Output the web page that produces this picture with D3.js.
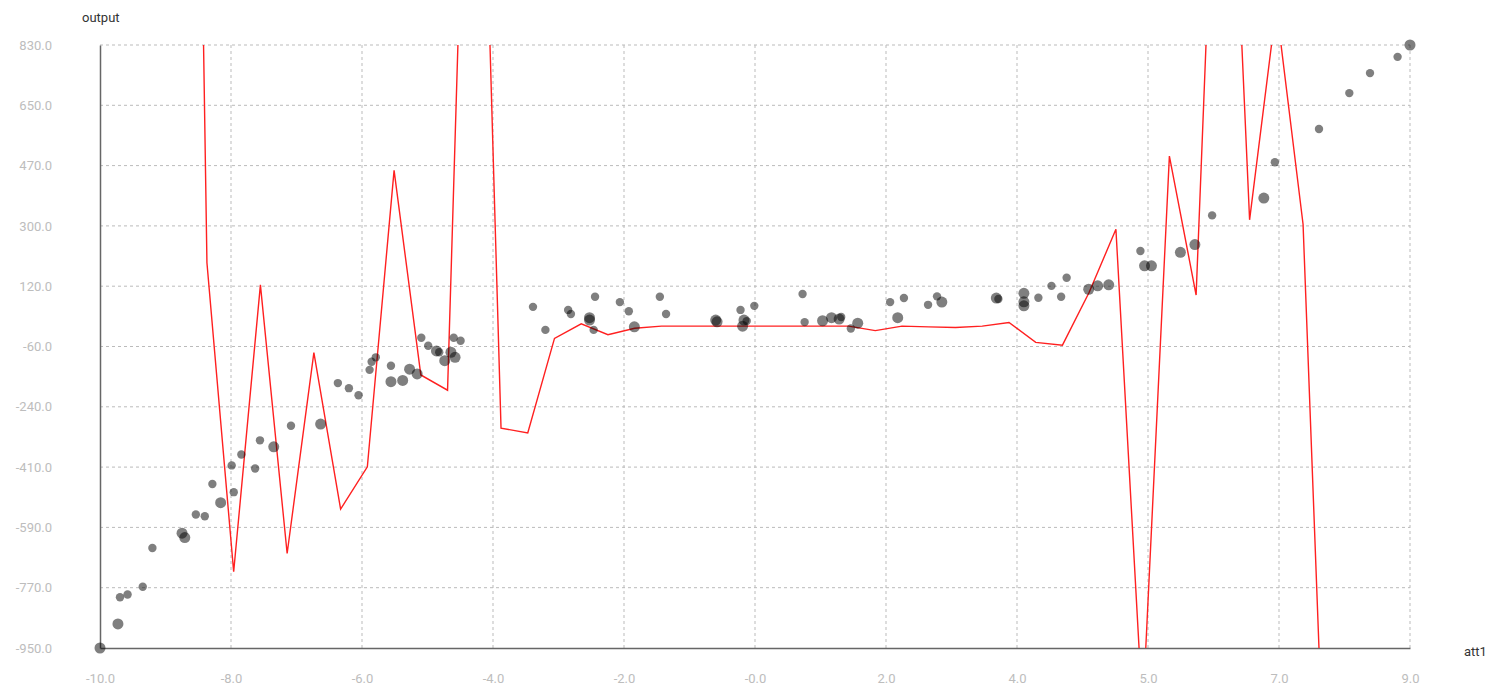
<!DOCTYPE html>
<html>
<head>
<meta charset="utf-8">
<script src="https://cdn.jsdelivr.net/npm/d3@7"></script>
<style>
  body { margin: 0; background: #fff; }
  text { font-family: Roboto, "Liberation Sans", sans-serif; }
</style>
</head>
<body>
<script>
// scatter points (att1 -> output), r = small / large dot
const att1 = [-10.00, -9.74, -9.71, -9.60, -9.38, -9.24, -8.81, -8.77, -8.61, -8.48,
  -8.25, -8.37, -8.06, -8.09, -7.95, -7.75, -7.68, -7.48, -7.23, -6.80,
  -6.55, -6.39, -6.25, -6.09, -6.06, -6.00, -5.78, -5.78, -5.61, -5.51,
  -5.40, -5.34, -5.24, -5.12, -5.08, -5.00, -4.91, -4.85, -4.87, -4.77,
  -3.72, -3.54, -3.21, -3.17, -2.82, -2.90, -2.90, -2.84, -2.46, -2.33,
  -2.25, -1.88, -1.79, -1.07, -1.05, -0.71, -0.68, -0.66, -0.62, -0.51,
  0.19, 0.22, 0.48, 0.61, 0.72, 0.75, 0.89, 0.99, 1.46, 1.57,
  1.66, 2.01, 2.14, 2.21, 3.00, 3.03, 3.40, 3.40, 3.40, 3.61,
  3.80, 3.94, 4.02, 4.34, 4.47, 4.63, 5.09, 5.15, 5.25, 5.67,
  5.88, 6.13, 6.88, 7.04, 7.68, 8.12, 8.42, 8.82, 9.00];
const output = [-950, -879, -800, -792, -769, -655, -611, -624, -556, -561,
  -521, -466, -490, -411, -379, -420, -337, -356, -294, -289,
  -168, -183, -204, -129, -105, -92, -117, -164, -160, -127,
  -141, -34, -58, -73, -77, -102, -77, -92, -34, -43,
  57, -11, 48, 36, 87, 25, 18, -11, 71, 44,
  -2, 87, 36, 18, 13, 48, 0, 18, 15, 60,
  95, 12, 16, 25, 21, 27, -7, 9, 71, 25,
  83, 63, 88, 71, 83, 80, 97, 72, 60, 84,
  119, 87, 143, 109, 119, 122, 222, 178, 178, 218,
  241, 327, 378, 484, 582, 688, 747, 795, 830];
const dotSize = ["L", "L", "S", "S", "S", "S", "L", "L", "S", "S",
  "L", "S", "S", "S", "S", "S", "S", "L", "S", "L",
  "S", "S", "S", "S", "S", "S", "S", "L", "L", "L",
  "L", "S", "S", "L", "S", "L", "L", "L", "S", "S",
  "S", "S", "S", "S", "S", "L", "L", "S", "S", "S",
  "L", "S", "S", "L", "L", "S", "L", "L", "S", "S",
  "S", "S", "L", "L", "L", "S", "S", "L", "S", "L",
  "S", "S", "S", "L", "L", "S", "L", "L", "L", "S",
  "S", "S", "S", "L", "L", "L", "S", "L", "L", "L",
  "L", "S", "L", "S", "S", "S", "S", "S", "L"];

// model curve, sampled at 50 even steps from -10 to 9
const curveX = d3.range(50).map(i => -10 + i * 19 / 49);
const curveY = [40000, 25000, 14000, 5260, 187, -725, 122, -671, -78, -540,
  -415, 460, -144, -189, 2440, -301, -315, -36, 7, -25,
  -6, 0, 0, 0, 0, 0, 0, 0, 0, -13,
  0, -2, -4, 0, 11, -48, -56, 100, 286, -1142,
  502, 92, 2093, 314, 944, 301, -1800, -2600, -3800, -5200];

// axis ticks
const xTickLabels = ["-10.0", "-8.0", "-6.0", "-4.0", "-2.0", "-0.0", "2.0", "4.0", "5.0", "7.0", "9.0"];
const yTickLabels = ["-950.0", "-770.0", "-590.0", "-410.0", "-240.0", "-60.0", "120.0", "300.0", "470.0", "650.0", "830.0"];

const W = 1489, H = 689;
const m = { left: 100, right: 1410, top: 45, bottom: 648 };

const svg = d3.select("body").append("svg")
    .attr("width", W)
    .attr("height", H);

const x = d3.scaleLinear().domain([-10, 9]).range([m.left, m.right]);
const y = d3.scaleLinear().domain([-950, 830]).range([m.bottom, m.top]);

const xTicks = d3.range(11).map(i => -10 + i * 1.9);
const yTicks = d3.range(11).map(i => -950 + i * 178);

// grid
svg.append("g").selectAll("line").data(yTicks.slice(1)).enter().append("line")
    .attr("x1", m.left).attr("x2", m.right)
    .attr("y1", d => y(d)).attr("y2", d => y(d))
    .attr("stroke", "#bbb").attr("stroke-dasharray", "3,3");
svg.append("g").selectAll("line").data(xTicks.slice(1)).enter().append("line")
    .attr("x1", d => x(d)).attr("x2", d => x(d))
    .attr("y1", m.top).attr("y2", m.bottom)
    .attr("stroke", "#bbb").attr("stroke-dasharray", "3,3");

// axes
const xAxis = d3.axisBottom(x).tickValues(xTicks)
    .tickFormat((d, i) => xTickLabels[i]).tickSize(0).tickPadding(26);
const yAxis = d3.axisLeft(y).tickValues(yTicks)
    .tickFormat((d, i) => yTickLabels[i]).tickSize(0).tickPadding(48);

const gx = svg.append("g").attr("transform", `translate(0,${m.bottom})`).call(xAxis);
const gy = svg.append("g").attr("transform", `translate(${m.left},0)`).call(yAxis);
[gx, gy].forEach(g => {
  g.select(".domain").attr("stroke", "#666").attr("stroke-width", 1.5);
  g.selectAll("text").attr("fill", "#bdbdbd").style("font-size", "13px");
});

svg.append("text").attr("x", 82).attr("y", 22)
    .attr("fill", "#333").style("font-size", "13px").text("output");
svg.append("text").attr("x", 1464).attr("y", 656)
    .attr("fill", "#333").style("font-size", "13px").text("att1");

// clip for the curve
svg.append("clipPath").attr("id", "plot")
  .append("rect")
    .attr("x", m.left).attr("y", m.top)
    .attr("width", m.right - m.left).attr("height", m.bottom - m.top);

const line = d3.line()
    .x((d, i) => x(curveX[i]))
    .y(d => y(d));

svg.append("path")
    .datum(curveY)
    .attr("clip-path", "url(#plot)")
    .attr("d", line)
    .attr("fill", "none")
    .attr("stroke", "#ff2020")
    .attr("stroke-width", 1.4);

// points
svg.append("g").selectAll("circle").data(att1).enter().append("circle")
    .attr("cx", d => x(d))
    .attr("cy", (d, i) => y(output[i]))
    .attr("r", (d, i) => dotSize[i] === "L" ? 5.5 : 4.2)
    .attr("fill", "#000")
    .attr("fill-opacity", 0.5);
</script>
</body>
</html>
